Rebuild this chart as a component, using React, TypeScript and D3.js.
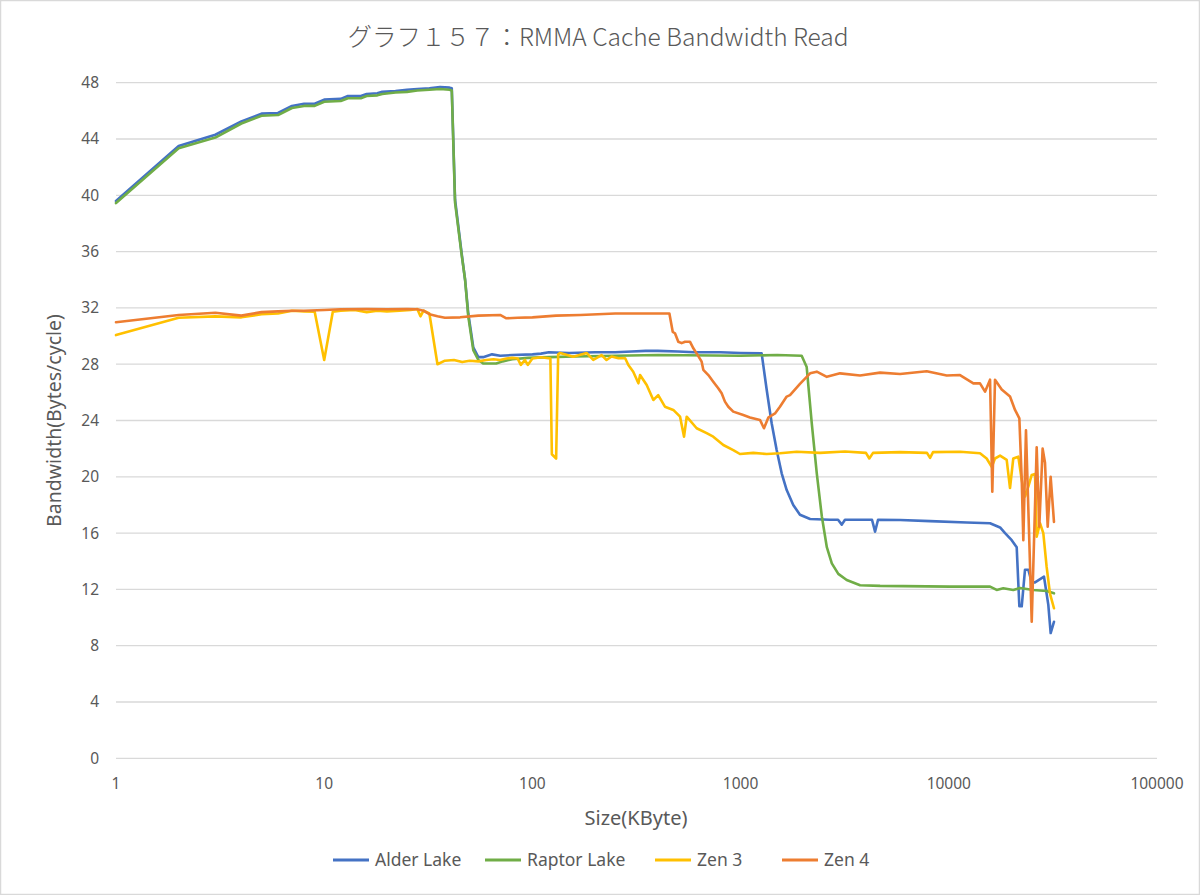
import React from "react";
import * as d3 from "d3";

const TITLE = "グラフ１５７：RMMA Cache Bandwidth Read";
const X_LABEL = "Size(KByte)";
const Y_LABEL = "Bandwidth(Bytes/cycle)";
const X_TICKS = [1, 10, 100, 1000, 10000, 100000];
const Y_TICKS = [0, 4, 8, 12, 16, 20, 24, 28, 32, 36, 40, 44, 48];
const SERIES_NAMES = ["Alder Lake", "Raptor Lake", "Zen 3", "Zen 4"];
const SERIES_COLORS = ["#4472C4", "#70AD47", "#FFC000", "#ED7D31"];

// [size KB, bandwidth bytes/cycle]
const alderLake: [number, number][] = [
  [1, 39.6], [2, 43.5], [3, 44.3], [4, 45.25], [5, 45.8], [6, 45.85], [7, 46.35], [8, 46.5], [9, 46.5],
  [10, 46.8], [12, 46.85], [13, 47.05], [15, 47.05], [16, 47.2], [18, 47.25], [19, 47.35], [22, 47.4],
  [25, 47.5], [28, 47.55], [32, 47.6], [36, 47.7], [40, 47.65], [41, 47.6], [42.5, 39.7], [45.7, 35.9],
  [47.5, 34.0], [49.2, 31.6], [52, 29.2], [55, 28.5], [58, 28.5], [64, 28.7], [70, 28.6], [80, 28.65],
  [100, 28.7], [110, 28.75], [120, 28.85], [150, 28.8], [200, 28.85], [250, 28.85], [300, 28.9],
  [350, 28.95], [400, 28.95], [500, 28.9], [600, 28.85], [800, 28.85], [1000, 28.8], [1262, 28.77],
  [1334, 26.2], [1410, 23.8], [1490, 21.9], [1575, 20.25], [1665, 19.06], [1790, 18.0], [1928, 17.3],
  [2157, 17.0], [2690, 16.95], [2938, 16.95], [3062, 16.6], [3172, 16.95], [3748, 16.95], [4277, 16.95],
  [4424, 16.1], [4572, 16.95], [5834, 16.93], [8128, 16.85], [12190, 16.75], [15780, 16.7], [17630, 16.4],
  [18630, 16.0], [20050, 15.5], [21190, 15.0], [21820, 10.8], [22400, 10.8], [23230, 13.4], [24100, 13.4],
  [25020, 12.5], [25950, 12.5], [27940, 12.8], [28660, 12.9], [30060, 10.9], [30850, 8.9], [32000, 9.7],
];

const raptorLake: [number, number][] = [
  [1, 39.45], [2, 43.35], [3, 44.1], [4, 45.1], [5, 45.65], [6, 45.7], [7, 46.2], [8, 46.35], [9, 46.35],
  [10, 46.65], [12, 46.7], [13, 46.9], [15, 46.9], [16, 47.05], [18, 47.1], [19, 47.2], [22, 47.3],
  [25, 47.35], [28, 47.45], [32, 47.5], [36, 47.55], [40, 47.5], [41, 47.45], [42.5, 39.5], [45.7, 35.8],
  [47.5, 34.0], [49.2, 31.4], [52, 29.0], [55, 28.3], [58, 28.05], [67, 28.05], [72, 28.2], [80, 28.35],
  [95, 28.45], [120, 28.5], [160, 28.55], [250, 28.6], [400, 28.65], [1000, 28.6], [1500, 28.65],
  [1965, 28.6], [2077, 27.8], [2197, 23.8], [2322, 20.25], [2455, 17.2], [2595, 15.0], [2742, 13.85],
  [2946, 13.1], [3233, 12.67], [3748, 12.3], [4677, 12.25], [10130, 12.2], [15780, 12.2], [16980, 11.96],
  [18270, 12.08], [20400, 11.96], [21980, 12.1], [25480, 11.96], [29510, 11.89], [32000, 11.72],
];

const zen3: [number, number][] = [
  [1, 30.07], [2, 31.3], [3, 31.4], [4, 31.33], [5, 31.55], [6, 31.6], [7, 31.8], [8, 31.75], [9, 31.73],
  [10, 28.3], [11, 31.73], [12, 31.8], [14, 31.85], [16, 31.7], [18, 31.8], [20, 31.75], [23, 31.8],
  [26, 31.85], [28, 31.92], [29, 31.4], [30, 31.8], [32, 31.6], [35, 28.0], [38, 28.25], [42, 28.3],
  [46, 28.15], [50, 28.25], [55, 28.2], [60, 28.3], [65, 28.35], [70, 28.3], [75, 28.4], [80, 28.45],
  [85, 28.4], [88, 27.95], [92, 28.3], [95, 27.95], [100, 28.4], [110, 28.5], [122, 28.4], [124, 21.6],
  [130, 21.3], [133, 28.7], [136, 28.8], [157, 28.53], [182, 28.8], [196, 28.3], [215, 28.65],
  [227, 28.3], [240, 28.55], [259, 28.42], [279, 28.42], [289, 27.94], [305, 27.47], [323, 26.64],
  [329, 27.23], [354, 26.52], [381, 25.46], [402, 25.8], [433, 24.98], [475, 24.75], [512, 24.27],
  [535, 22.85], [551, 24.27], [615, 23.45], [687, 23.1], [739, 22.85], [826, 22.26], [922, 21.9],
  [993, 21.62], [1151, 21.7], [1334, 21.62], [1545, 21.67], [1860, 21.78], [2405, 21.7], [3172, 21.8],
  [4000, 21.7], [4151, 21.3], [4326, 21.7], [5834, 21.75], [7855, 21.7], [8128, 21.35], [8400, 21.75],
  [11320, 21.78], [14120, 21.67], [15200, 21.3], [16070, 20.7], [16670, 21.3], [17630, 21.5],
  [18970, 21.2], [19680, 19.2], [20400, 21.3], [21570, 21.43], [22400, 19.77], [23230, 18.6],
  [24100, 19.3], [25020, 20.13], [25950, 20.2], [26430, 15.74], [27420, 16.7], [28440, 16.0],
  [29510, 13.6], [30620, 11.7], [32000, 10.66],
];

const zen4: [number, number][] = [
  [1, 30.98], [2, 31.5], [3, 31.66], [4, 31.45], [5, 31.7], [6, 31.75], [7, 31.8], [8, 31.8], [10, 31.85],
  [12, 31.9], [16, 31.92], [20, 31.9], [25, 31.92], [28, 31.9], [30, 31.8], [32, 31.55], [35, 31.4],
  [38, 31.3], [45, 31.33], [55, 31.45], [70, 31.5], [75, 31.26], [85, 31.3], [100, 31.33], [130, 31.45],
  [170, 31.5], [250, 31.6], [350, 31.6], [455, 31.6], [472, 30.3], [484, 30.2], [502, 29.6], [521, 29.5],
  [541, 29.6], [571, 29.6], [593, 29.13], [615, 28.77], [650, 28.18], [662, 27.6], [700, 27.23],
  [739, 26.76], [781, 26.29], [811, 25.93], [841, 25.34], [873, 24.98], [922, 24.63], [1030, 24.39],
  [1109, 24.22], [1239, 24.04], [1295, 23.45], [1358, 24.2], [1463, 24.5], [1545, 24.98], [1665, 25.7],
  [1727, 25.8], [1928, 26.6], [2157, 27.35], [2322, 27.47], [2595, 27.1], [3004, 27.35], [3748, 27.2],
  [4677, 27.4], [5834, 27.3], [7834, 27.5], [9772, 27.2], [11320, 27.23], [13120, 26.64], [14120, 26.64],
  [14930, 26.05], [15780, 26.9], [16180, 18.94], [16670, 26.9], [17950, 26.2], [19680, 25.7],
  [20800, 24.75], [21820, 24.15], [22400, 19.8], [22800, 15.5], [23480, 23.3], [25020, 9.7], [26430, 22.1],
  [27200, 16.45], [28230, 22.0], [28980, 21.0], [29850, 16.45], [30850, 20.0], [32000, 16.8],
];

const SERIES = [alderLake, raptorLake, zen3, zen4];

const W = 1200;
const H = 895;
const LEFT = 116;
const RIGHT = 1157;
const TOP = 82.7;
const BOTTOM = 758.3;
const FONT = "'Noto Sans', 'Noto Sans CJK JP', sans-serif";
const TEXT = "#595959";
const GRID = "#d9d9d9";

export default function App() {
  const x = d3.scaleLog().domain([1, 100000]).range([LEFT, RIGHT]);
  const y = d3.scaleLinear().domain([0, 48]).range([BOTTOM, TOP]);
  const line = d3
    .line<[number, number]>()
    .x((d) => x(d[0]))
    .y((d) => y(d[1]));

  const legendX = [333, 485, 655, 782];

  return (
    <div style={{ position: "absolute", left: 0, top: 0 }}>
      <svg width={W} height={H} style={{ display: "block", background: "#fff" }} fontFamily={FONT}>
        <rect x={0.5} y={0.5} width={W - 1} height={H - 1} fill="#fff" stroke={GRID} strokeWidth={1.5} />
        <text
          x={598}
          y={46}
          textAnchor="middle"
          fontSize={24.5}
          fill={TEXT}
          fontFamily="'Noto Sans CJK JP', sans-serif"
          fontWeight={300}
        >
          {TITLE}
        </text>
        {Y_TICKS.map((t) => (
          <g key={t}>
            <line x1={LEFT} x2={RIGHT} y1={y(t)} y2={y(t)} stroke={GRID} strokeWidth={1.3} />
            <text x={99} y={y(t)} dy="0.35em" textAnchor="end" fontSize={15.5} fill={TEXT}>
              {t}
            </text>
          </g>
        ))}
        {X_TICKS.map((t) => (
          <text key={t} x={x(t)} y={789} textAnchor="middle" fontSize={15.5} fill={TEXT}>
            {t}
          </text>
        ))}
        <text x={636} y={825} textAnchor="middle" fontSize={20} fill={TEXT}>
          {X_LABEL}
        </text>
        <text
          transform={`translate(61, ${(TOP + BOTTOM) / 2}) rotate(-90)`}
          textAnchor="middle"
          fontSize={19.5}
          fill={TEXT}
        >
          {Y_LABEL}
        </text>
        <g>
          {SERIES.map((s, i) => (
            <path
              key={SERIES_NAMES[i]}
              d={line(s) || ""}
              fill="none"
              stroke={SERIES_COLORS[i]}
              strokeWidth={2.6}
              strokeLinejoin="round"
              strokeLinecap="round"
            />
          ))}
        </g>
        {SERIES_NAMES.map((n, i) => (
          <g key={n}>
            <line
              x1={legendX[i]}
              x2={legendX[i] + 36}
              y1={860}
              y2={860}
              stroke={SERIES_COLORS[i]}
              strokeWidth={3}
            />
            <text x={legendX[i] + 42} y={860} dy="0.35em" fontSize={17.5} fill={TEXT}>
              {n}
            </text>
          </g>
        ))}
      </svg>
    </div>
  );
}
